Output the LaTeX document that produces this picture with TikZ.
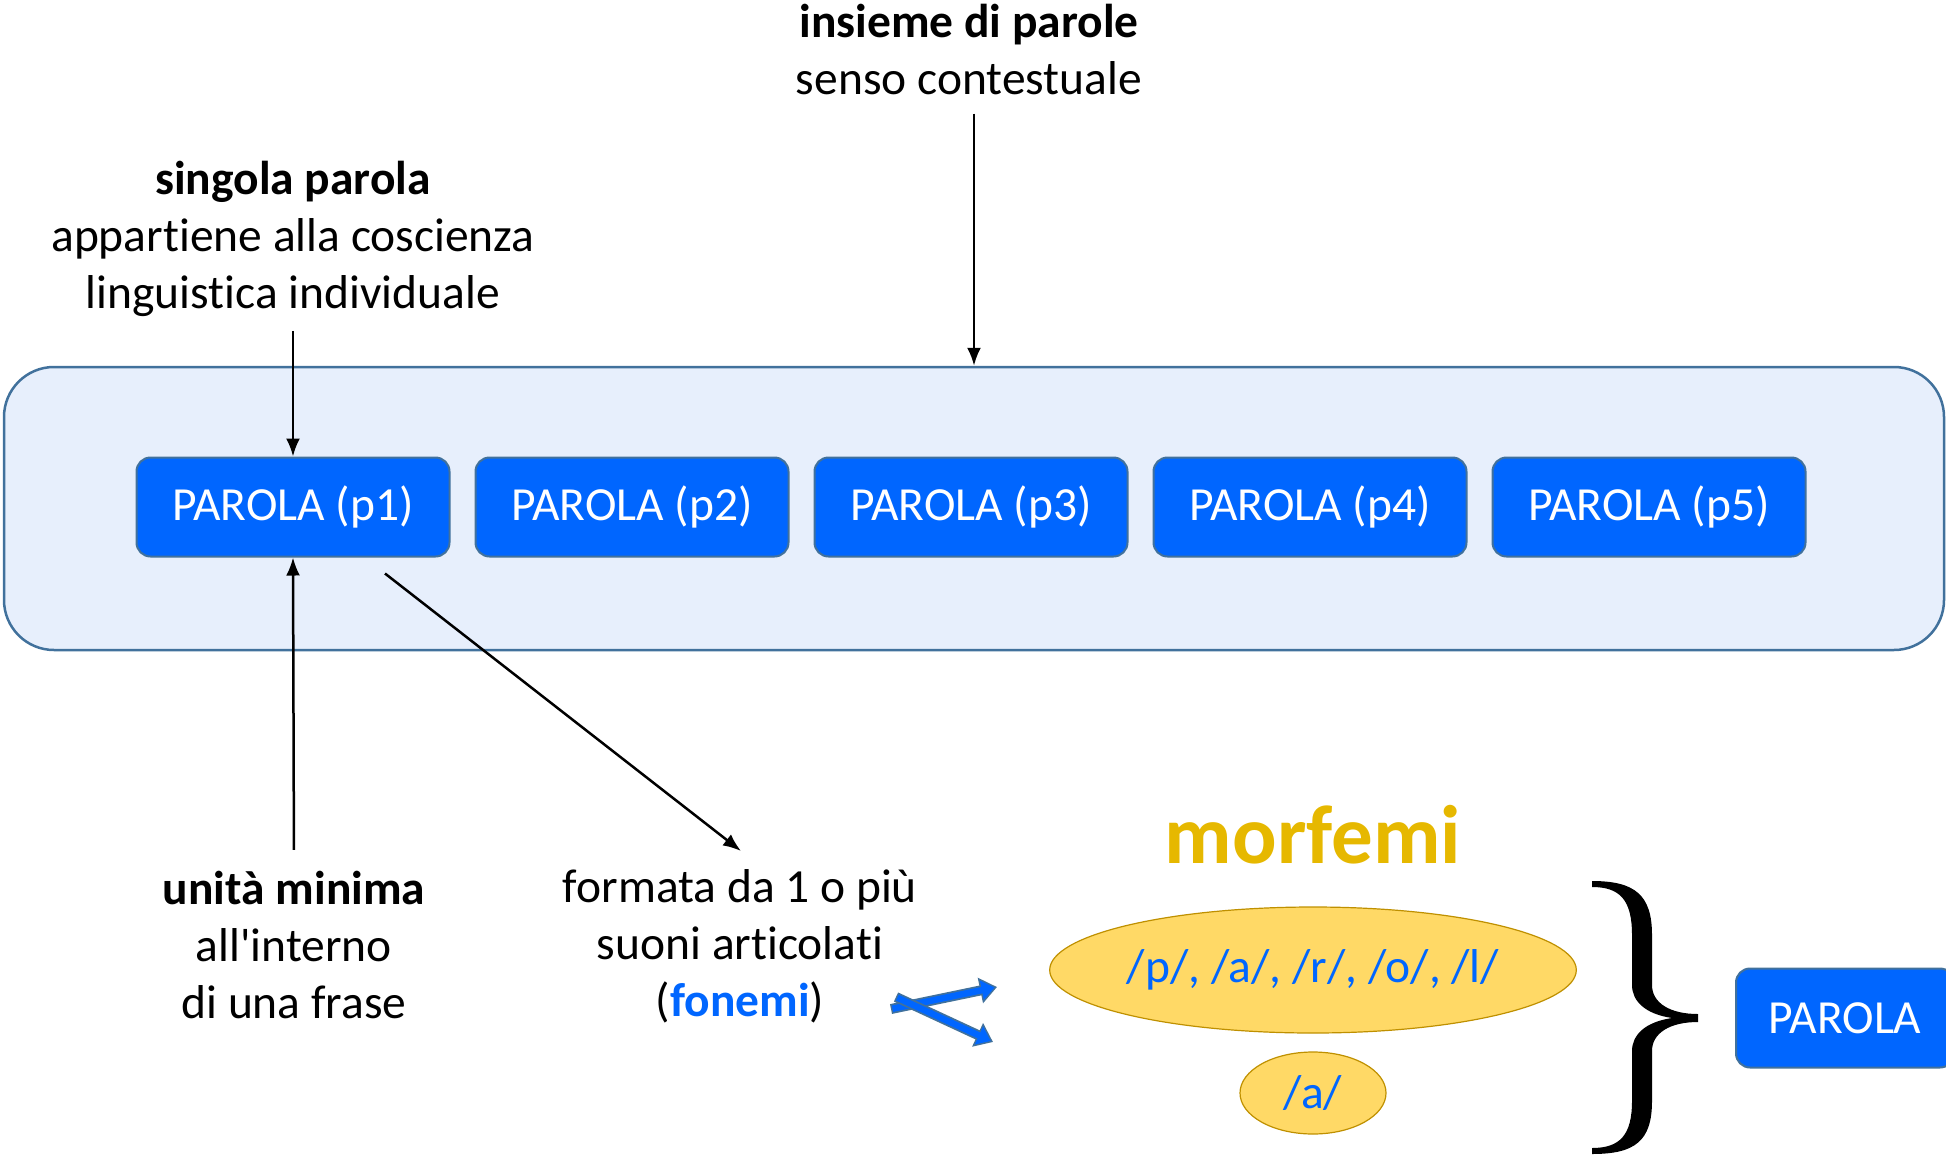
\documentclass[tikz,border=0pt]{standalone}
\usepackage{fontspec}
\setmainfont{Carlito}[Ligatures=NoCommon]
\newfontfamily\plainfont{Carlito}
\usetikzlibrary{arrows.meta,shapes.geometric,calc}

\definecolor{wordblue}{HTML}{0066FF}
\definecolor{wordedge}{HTML}{41719C}
\definecolor{framefill}{HTML}{E7EFFC}
\definecolor{morphfill}{HTML}{FFD966}
\definecolor{morphedge}{HTML}{BF9000}
\definecolor{morphgold}{HTML}{E6B800}

\begin{document}
\begin{tikzpicture}[x=1pt, y=-1pt, >={Latex[length=18pt,width=14pt]},
  font=\fontsize{47.5}{57}\selectfont]

  \tikzstyle{word}=[draw=wordedge, line width=2pt, fill=wordblue, text=white,
    rounded corners=14pt, minimum width=313pt, minimum height=99pt]
  \tikzstyle{note}=[align=center, inner sep=0pt]
  \tikzstyle{morph}=[ellipse, draw=morphedge, line width=1.2pt,
    fill=morphfill, text=wordblue, inner sep=0pt]
  \tikzstyle{link}=[black, line width=2.5pt, ->]
  \tikzstyle{fatout}=[wordedge, line width=10pt, -{Triangle[length=17pt,width=25pt]}]
  \tikzstyle{fatin}=[wordblue, line width=6.5pt, -{Triangle[length=13pt,width=19pt]},
    shorten >=2.5pt, shorten <=1.5pt]

  \useasboundingbox (0,0) rectangle (1946,1154);

  % the sentence frame and its words
  \node [draw=wordedge, line width=2.5pt, fill=framefill, rounded corners=50pt,
    minimum width=1940pt, minimum height=283pt] (frase) at (974,508.5) {};

  \foreach \i in {1,...,5}
    \node [word] (p\i) at ({293+339*(\i-1)},507) {PAROLA (p\i)};

  % captions
  \node [note] (insieme) at (969,50) {\textbf{insieme di parole}\\senso contestuale};
  \node [note] (singola) at (293,239)
    {\textbf{singola parola}\\appartiene alla coscienza\\linguistica individuale};
  \node [note] (unita) at (294,945)
    {\textbf{unità minima}\\all{\plainfont'}interno\\di una frase};
  \node [note] (fonemi) at (740,946)
    {formata da 1 o più\\suoni articolati\\(\textcolor{wordblue}{\textbf{fonemi}})};

  % morphemes
  \node [text=morphgold, font=\fontsize{83}{90}\selectfont\bfseries] (morfemi)
    at (1313,835) {morfemi};
  \node [morph, minimum width=524pt, minimum height=126pt] (lettere)
    at (1313,970) {/p/, /a/, /r/, /o/, /l/};
  \node [morph, minimum width=146pt, minimum height=82pt] (vocale)
    at (1313,1093) {/a/};
  \node [word, minimum width=218pt] (parola) at (1845,1018) {PAROLA};

  \fill [black] (1592,881) .. controls (1635,881) and (1652,895) .. (1652,935)
    -- (1652,985) .. controls (1652,1003) and (1670,1014) .. (1698,1014)
    -- (1698,1022) .. controls (1670,1022) and (1652,1033) .. (1652,1051)
    -- (1652,1101) .. controls (1652,1141) and (1635,1154) .. (1592,1154)
    -- (1592,1148) .. controls (1620,1148) and (1632,1135) .. (1632,1101)
    -- (1632,1051) .. controls (1632,1035) and (1645,1022) .. (1672,1018)
    .. controls (1645,1014) and (1632,1001) .. (1632,985)
    -- (1632,935) .. controls (1632,900) and (1620,887) .. (1592,887) -- cycle;

  % connectors
  \draw [link, shorten <=18pt] ($(insieme.south)+(5,0)$) -- ($(insieme.south |- frase.north)+(5,0)$);
  \draw [link, shorten <=14pt] (singola.south) -- (p1.north);
  \draw [link, shorten <=21pt] (unita.north) -- (p1.south);
  \draw [link] ($(p1.south)+(92,16)$) -- ($(fonemi.north)+(1,-18)$);

  \coordinate (a1) at (891,1009);
  \coordinate (b1) at (997,987);
  \coordinate (a2) at (896,997);
  \coordinate (b2) at (993,1042);
  \draw [fatout] (a1) -- (b1);
  \draw [fatin] (a1) -- (b1);
  \draw [fatout] (a2) -- (b2);
  \draw [fatin] (a2) -- (b2);

\end{tikzpicture}
\end{document}
